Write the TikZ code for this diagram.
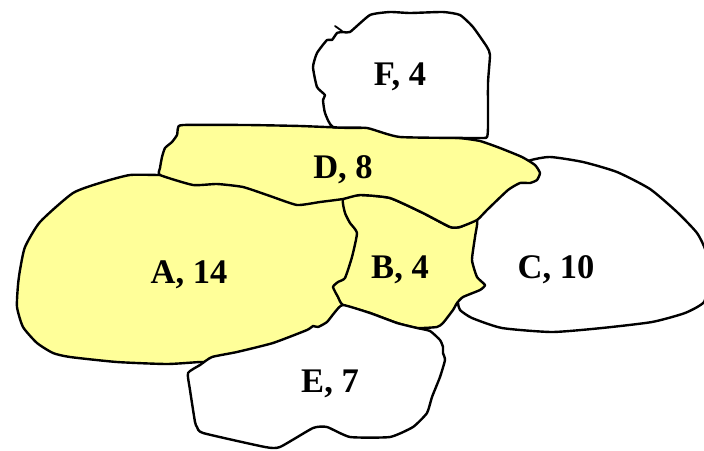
\documentclass[tikz,border=0pt]{standalone}
\usepackage{fontspec}
\setmainfont{Liberation Serif}
\definecolor{regyellow}{RGB}{255,255,153}
\tikzset{
  region/.style={draw=black, line width=2.4pt, line join=round},
  yreg/.style={region, fill=regyellow},
  wreg/.style={region, fill=white},
  lbl/.style={anchor=base, font=\fontsize{34.5}{40}\selectfont\bfseries, inner sep=0pt}
}
\begin{document}
\begin{tikzpicture}[x=1pt,y=-1pt]
\useasboundingbox (0,0) rectangle (704,450);
% C
\draw[wreg] plot[smooth cycle, tension=0.35] coordinates {(528,161) (550,157) (583,162) (617,172) (650,189) (677,212) (697,233) (706,252) (708,280) (704,302) (685,313) (652,322) (602,328) (552,332) (502,328) (472,318) (460,310) (458,303) (455,290) (460,240) (470,215) (500,175)};
% A
\draw[yreg] plot[smooth cycle, tension=0.35] coordinates {(130,175) (160,175) (200,175) (250,180) (330,190) (365,210) (375,250) (365,300) (340,322) (300,345) (260,358) (215,362) (200,362) (167,364) (117,362) (70,357) (53,353) (37,343) (23,327) (17,307) (18,285) (20,270) (25,247) (40,222) (73,193) (103,182)};
% B
\draw[yreg] plot[smooth cycle, tension=0.3] coordinates {(343,199) (360,195) (390,198) (423,213) (450,227) (460,227) (477,220) (475,237) (472,260) (477,277) (485,285) (480,290) (463,297) (457,303) (453,310) (443,323) (437,327) (417,328) (397,323) (370,313) (343,305) (338,297) (333,287) (338,282) (345,278) (352,257) (357,233) (350,223) (345,213)};
% D
\draw[yreg] plot[smooth cycle, tension=0.3] coordinates {(160,175) (193,185) (217,184) (243,187) (270,196) (297,205) (320,202) (343,199) (360,195) (390,198) (423,213) (450,227) (460,227) (477,220) (487,210) (508,190) (520,183) (530,183) (537,180) (540,173) (535,165) (522,157) (500,148) (480,141) (459,138) (430,137) (402,136) (372,128) (350,128) (300,126) (247,125) (183,125) (178,128) (177,135) (172,142) (165,148) (162,157) (160,168)};
% E
\draw[wreg] plot[smooth cycle, tension=0.3] coordinates {(188,373) (200,365) (212,357) (237,352) (273,343) (307,330) (313,326) (318,327) (327,322) (335,312) (343,305) (370,313) (397,323) (417,328) (430,331) (440,340) (443,347) (443,353) (445,360) (440,377) (432,397) (427,413) (413,427) (390,437) (350,437) (327,427) (313,428) (280,447) (265,447) (203,433) (197,427) (195,422) (190,390)};
% F
\draw[wreg] plot[smooth cycle, tension=0.3] coordinates {(333,127) (325,113) (323,100) (325,95) (317,87) (313,67) (317,53) (327,40) (332,40) (337,33) (343,32) (350,32) (370,15) (390,12) (410,13) (443,12) (460,15) (473,27) (487,47) (490,55) (488,83) (488,127) (487,137) (480,138) (400,137) (367,128)};
\coordinate (fs1) at (335,26);
\coordinate (fs2) at (342,31);
\draw[line width=1.8pt, line cap=round] (fs1) -- (fs2);
% labels
\node[lbl] (lF) at (400,85) {F, 4};
\node[lbl] (lD) at (343,178) {D, 8};
\node[lbl] (lA) at (189,283) {A, 14};
\node[lbl] (lB) at (400,278) {B, 4};
\node[lbl] (lC) at (556,278) {C, 10};
\node[lbl] (lE) at (330,392) {E, 7};
\end{tikzpicture}
\end{document}
